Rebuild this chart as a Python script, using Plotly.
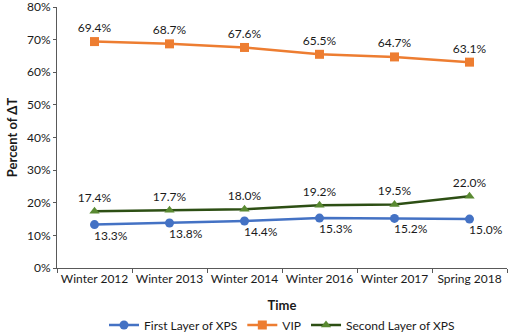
import plotly.graph_objects as go

categories = ["Winter 2012", "Winter 2013", "Winter 2014", "Winter 2016", "Winter 2017", "Spring 2018"]
first_layer = [13.3, 13.8, 14.4, 15.3, 15.2, 15.0]
vip = [69.4, 68.7, 67.6, 65.5, 64.7, 63.1]
second_layer = [17.4, 17.7, 18.0, 19.2, 19.5, 22.0]

FONT = "Lato"
TXT = "#1a1a1a"

def labels(vals):
    return [f"{v:.1f}%" for v in vals]

fig = go.Figure()
fig.add_trace(go.Scatter(
    x=categories, y=first_layer, name="First Layer of XPS",
    mode="lines+markers",
    line=dict(color="#4472C4", width=2.5),
    marker=dict(symbol="circle", size=9, color="#4472C4"),
))
fig.add_trace(go.Scatter(
    x=categories, y=vip, name="VIP",
    mode="lines+markers+text", text=labels(vip), textposition="top center",
    line=dict(color="#ED7D31", width=2.5),
    marker=dict(symbol="square", size=9, color="#ED7D31"),
    textfont=dict(family=FONT, size=12, color=TXT),
))
fig.add_trace(go.Scatter(
    x=categories, y=second_layer, name="Second Layer of XPS",
    mode="lines+markers+text", text=labels(second_layer), textposition="top center",
    line=dict(color="#2D4F14", width=2.5),
    marker=dict(symbol="triangle-up", size=9, color="#5A8A32"),
    textfont=dict(family=FONT, size=12, color=TXT),
))

for c, v, t in zip(categories, first_layer, labels(first_layer)):
    fig.add_annotation(x=c, y=v, text=t, showarrow=False, xanchor="left", yanchor="top",
                       xshift=-3, yshift=-1, font=dict(family=FONT, size=12, color=TXT))

fig.update_layout(
    width=510, height=335,
    margin=dict(l=57, r=3, t=7, b=67, autoexpand=False),
    plot_bgcolor="white", paper_bgcolor="white",
    font=dict(family=FONT, size=12, color=TXT),
    showlegend=True,
    legend=dict(orientation="h", x=0.5, xanchor="center", y=-0.274, yanchor="bottom",
                font=dict(family=FONT, size=12, color=TXT),
                itemwidth=30, tracegroupgap=0),
    xaxis=dict(
        type="category", range=[-0.5, 5.5], automargin=False, tickangle=0,
        showline=True, linecolor="#595959", linewidth=1,
        ticks="outside", tickson="boundaries", ticklen=4, tickcolor="#595959",
        showgrid=False, tickfont=dict(family=FONT, size=12, color=TXT),
        title=dict(text="<b>Time</b>", font=dict(family=FONT, size=13, color=TXT), standoff=15),
    ),
    yaxis=dict(
        range=[0, 80], dtick=10, ticksuffix="%", automargin=False,
        ticklabeloverflow="allow",
        showline=True, linecolor="#595959", linewidth=1,
        ticks="outside", ticklen=3, tickcolor="#595959",
        showgrid=False, zeroline=False, tickfont=dict(family=FONT, size=12, color=TXT),
        title=dict(text="<b>Percent of ΔT</b>", font=dict(family=FONT, size=13, color=TXT), standoff=6),
    ),
)

fig.write_html("out.html", config={"displayModeBar": False},
               post_script="document.body.style.margin='0';")
